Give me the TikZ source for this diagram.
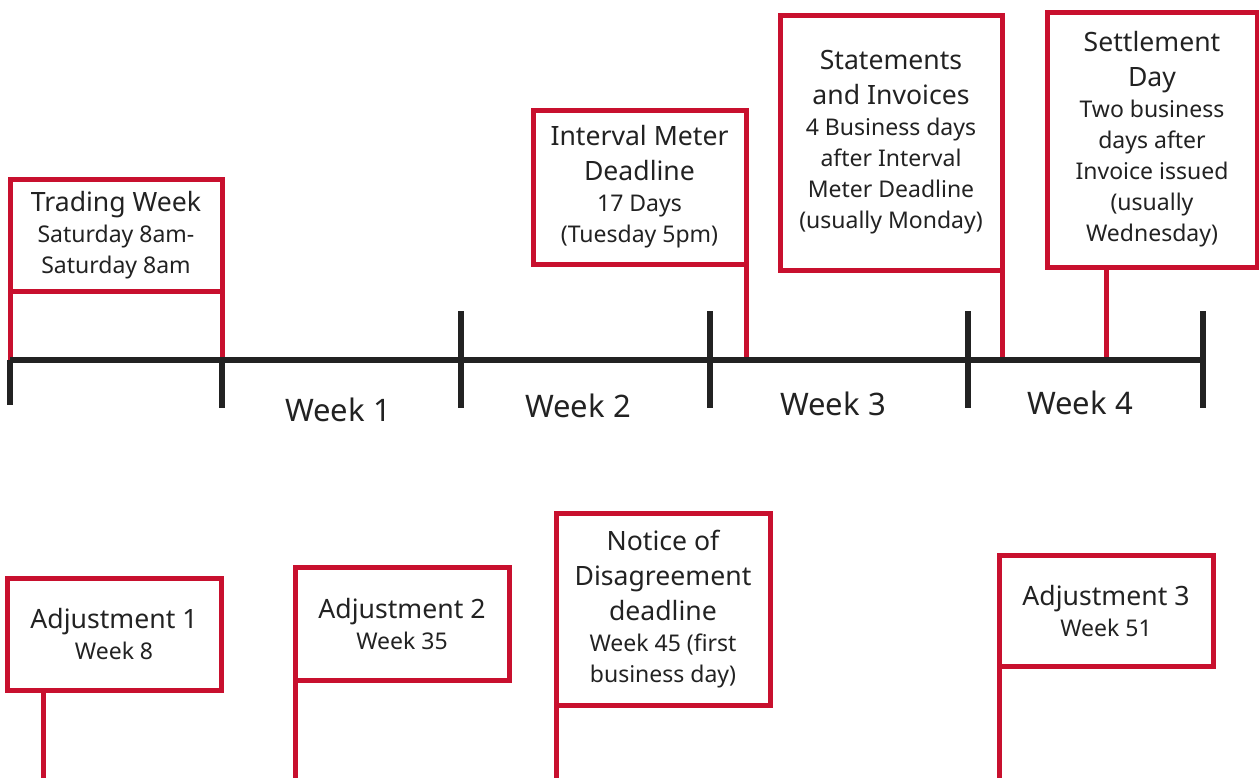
\documentclass[tikz,border=0pt]{standalone}
\usepackage{fontspec}
\setmainfont{Noto Sans}
\usepackage{tikz}
\definecolor{flagred}{RGB}{200,16,46}
\definecolor{axisgrey}{RGB}{34,34,34}
\newcommand{\flagtitle}[1]{{\fontsize{13.3}{17.5}\selectfont #1}}

\begin{document}
\begin{tikzpicture}[x=0.5pt,y=-0.5pt,
  every node/.style={text=axisgrey},
  flag/.style={rectangle,draw=flagred,line width=2.5pt,fill=white,align=center,inner sep=0pt,
    outer sep=0pt,font=\fontsize{11.5}{15.5}\selectfont},
  post/.style={draw=flagred,line width=2.5pt},
  axis/.style={draw=axisgrey,line width=3pt},
  weeklbl/.style={font=\fontsize{15.5}{18}\selectfont}]
  \useasboundingbox (0,0) rectangle (1259,778);

  % axis points
  \coordinate (t0) at (10,360);
  \coordinate (t1) at (222,360);
  \coordinate (t2) at (461,360);
  \coordinate (t3) at (710,360);
  \coordinate (t4) at (968,360);
  \coordinate (t5) at (1203,360);
  \coordinate (sdpost) at (1106,360);
  \coordinate (floor) at (0,778);
  \coordinate (adjonepost) at (43,778);

  % top flags
  \node[flag,minimum width=106pt,minimum height=56pt] (trading) at (116,235)
    {\flagtitle{Trading Week}\\Saturday 8am-\\Saturday 8am};
  \node[flag,minimum width=106.5pt,minimum height=77pt] (interval) at (639.5,187)
    {\flagtitle{Interval Meter}\\[2pt]\flagtitle{Deadline}\\17 Days\\(Tuesday 5pm)};
  \node[flag,minimum width=111pt,minimum height=127.5pt] (statements) at (891,142.5)
    {\flagtitle{Statements}\\[2pt]\flagtitle{and Invoices}\\4 Business days\\after Interval\\Meter Deadline\\(usually Monday)};
  \node[flag,minimum width=105pt,minimum height=127.5pt] (settlement) at (1152,139.5)
    {\flagtitle{Settlement}\\[2pt]\flagtitle{Day}\\Two business\\days after\\Invoice issued\\(usually\\Wednesday)};

  % bottom flags
  \node[flag,minimum width=107pt,minimum height=56pt] (adjone) at (114,634)
    {\flagtitle{Adjustment 1}\\Week 8};
  \node[flag,minimum width=107pt,minimum height=56.5pt] (adjtwo) at (402,623.5)
    {\flagtitle{Adjustment 2}\\Week 35};
  \node[flag,minimum width=107pt,minimum height=96pt] (notice) at (663,609)
    {\flagtitle{Notice of}\\[2pt]\flagtitle{Disagreement}\\[2pt]\flagtitle{deadline}\\Week 45 (first\\business day)};
  \node[flag,minimum width=107pt,minimum height=55.5pt] (adjthree) at (1106,610.5)
    {\flagtitle{Adjustment 3}\\Week 51};

  % posts
  \draw[post] (trading.south west) -- (trading.south west |- t0);
  \draw[post] (trading.south east) -- (trading.south east |- t0);
  \draw[post] (interval.south east) -- (interval.south east |- t0);
  \draw[post] (statements.south east) -- (statements.south east |- t0);
  \draw[post] (settlement.south -| sdpost) -- (sdpost);
  \draw[post] (adjone.south -| adjonepost) -- (adjonepost);
  \draw[post] (adjtwo.south west) -- (adjtwo.south west |- floor);
  \draw[post] (notice.south west) -- (notice.south west |- floor);
  \draw[post] (adjthree.south west) -- (adjthree.south west |- floor);

  % time line
  \draw[axis] (t0) -- (t5);
  \draw[axis] (t0) -- ++(0,45);
  \draw[axis] (t1) -- ++(0,48);
  \foreach \t in {t2,t3,t4,t5}
    \draw[axis] ([yshift=24.5pt]\t) -- ([yshift=-24pt]\t);

  \node[weeklbl] (weekone) at (338,410) {Week 1};
  \node[weeklbl] (weektwo) at (578,406) {Week 2};
  \node[weeklbl] (weekthree) at (833,404) {Week 3};
  \node[weeklbl] (weekfour) at (1080,403) {Week 4};
\end{tikzpicture}
\end{document}
